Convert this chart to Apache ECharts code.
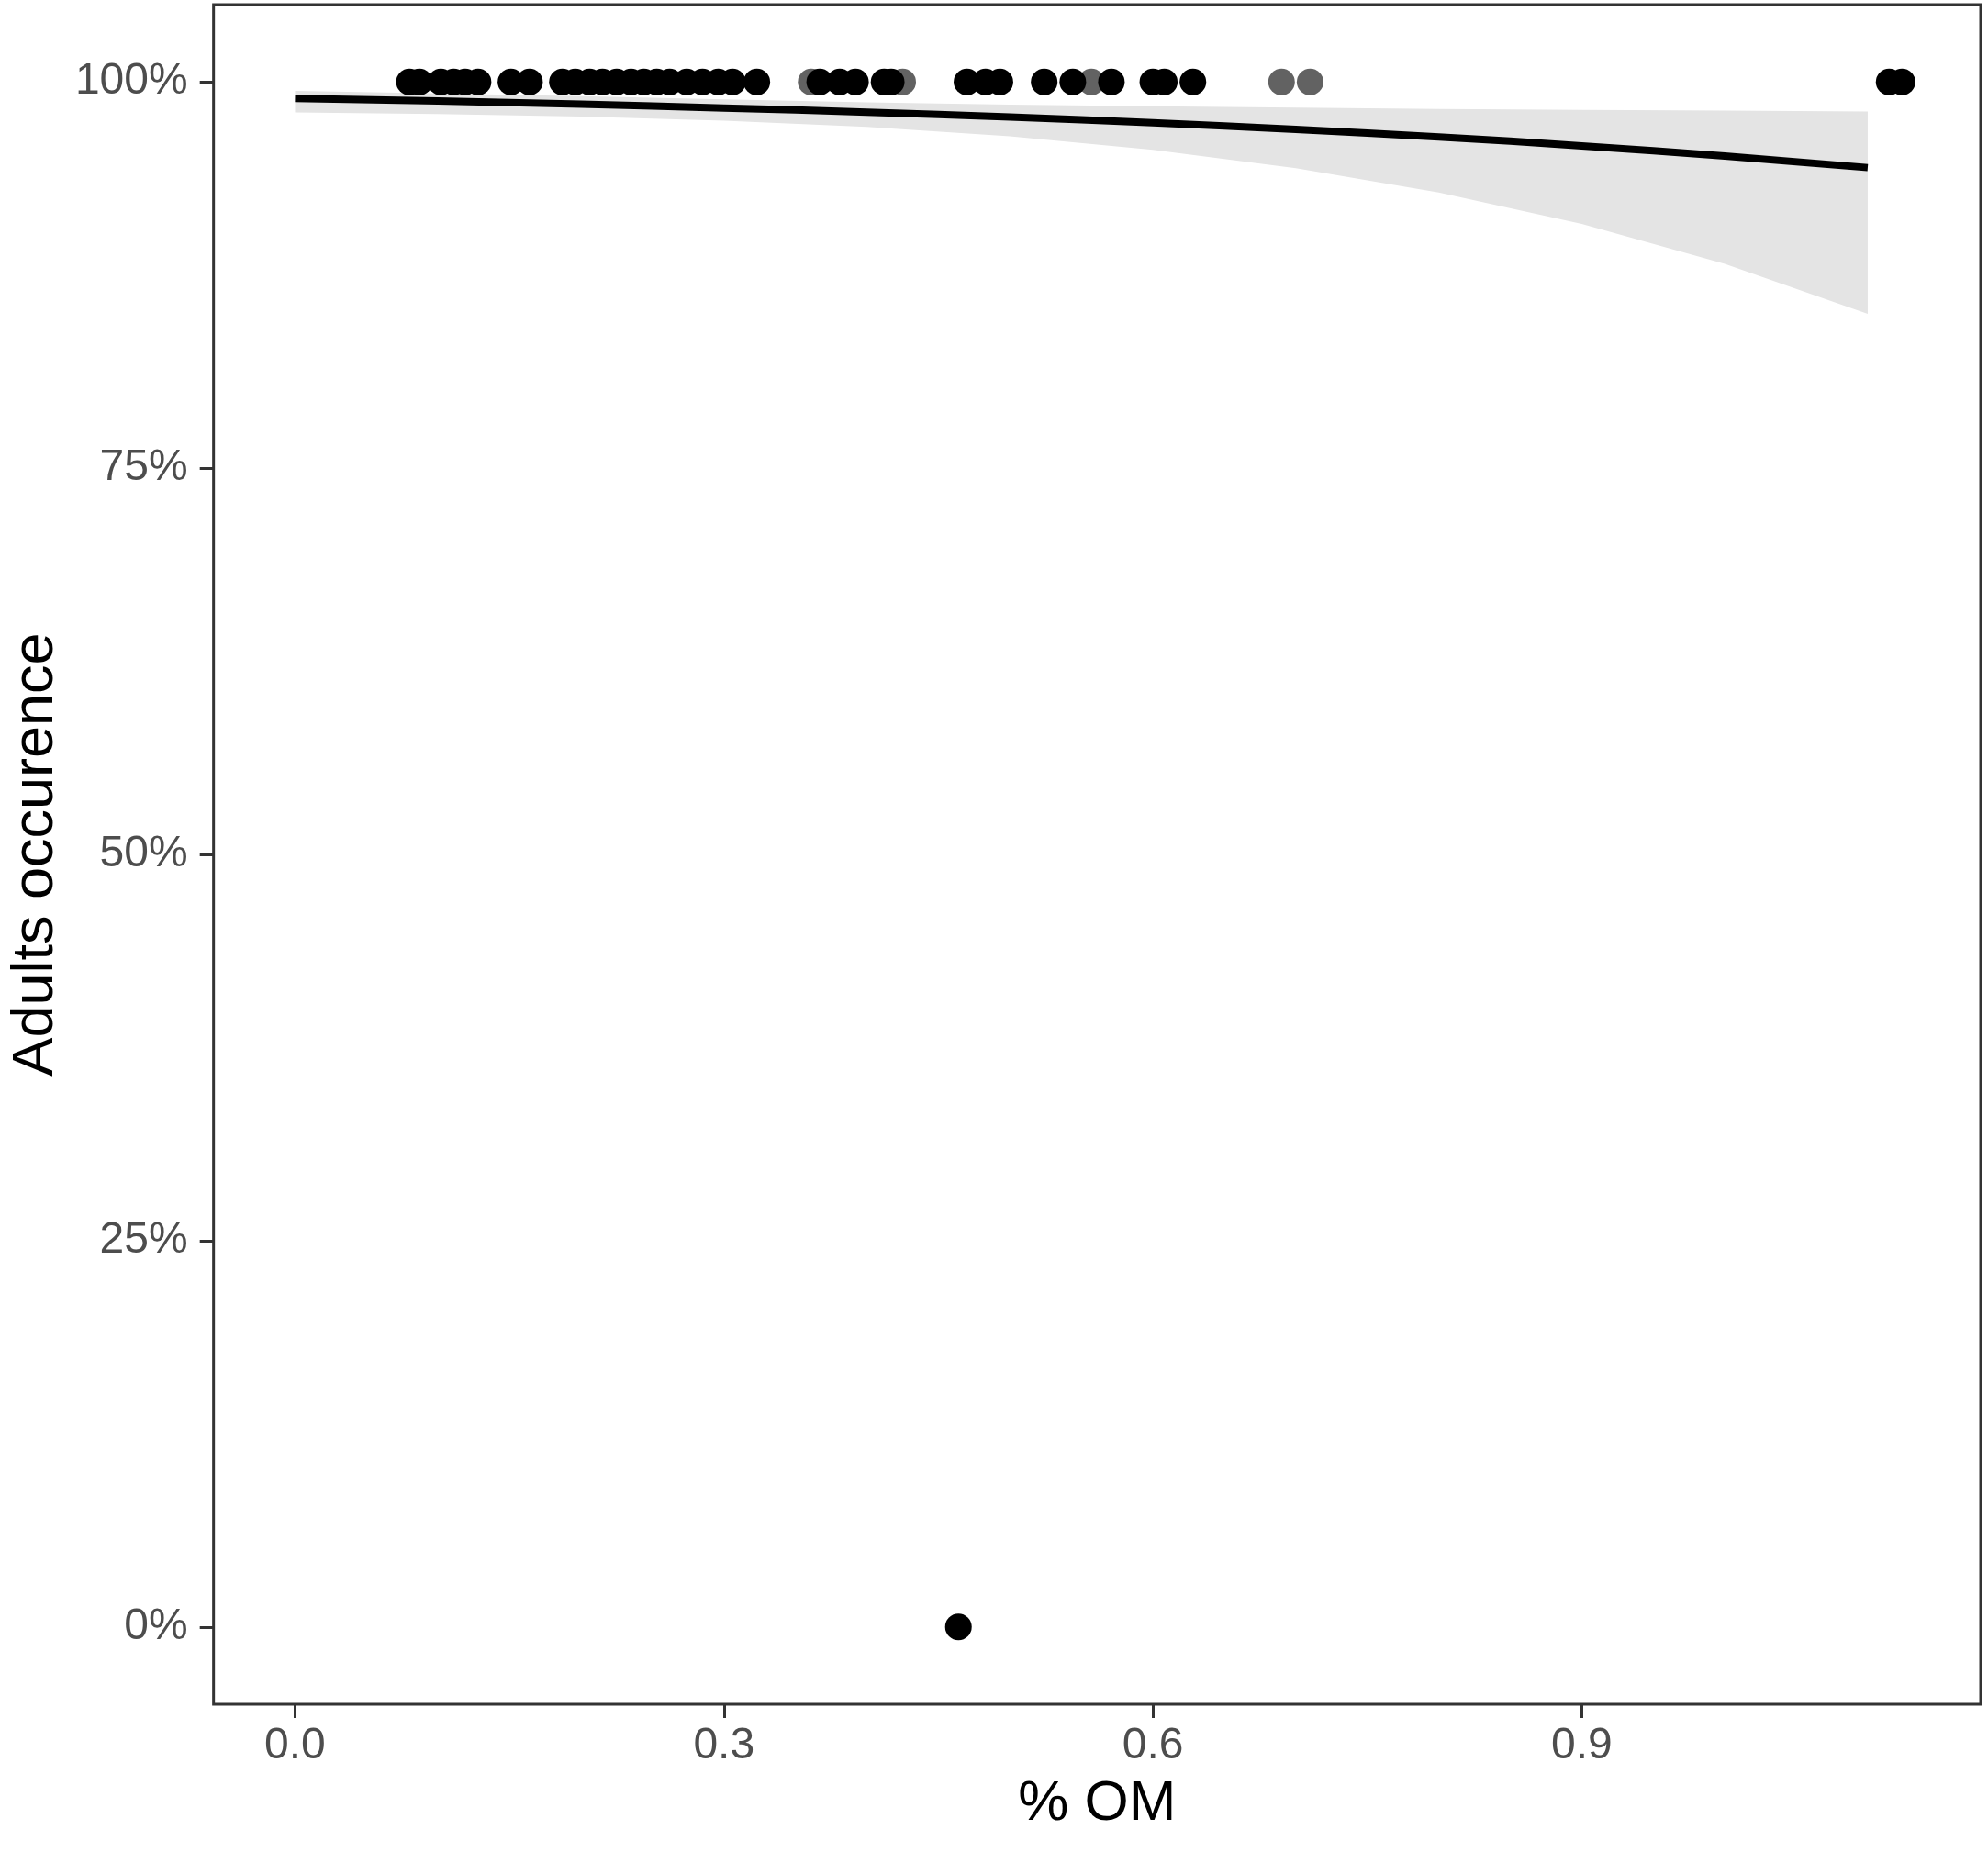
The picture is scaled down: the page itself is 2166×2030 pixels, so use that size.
<!DOCTYPE html>
<html>
<head>
<meta charset="utf-8">
<title>Adults occurence vs % OM</title>
<script src="https://cdn.jsdelivr.net/npm/echarts@6/dist/echarts.min.js"></script>
<style>
    html, body { margin: 0; padding: 0; background: #fff; }
    #chart { width: 2166px; height: 2030px; }
</style>
</head>
<body>
<div id="chart"></div>
<script>
// 观测点 [% OM, occurrence]，黑色
const blackPoints = [
    [0.080, 1], [0.087, 1], [0.102, 1], [0.111, 1], [0.119, 1], [0.128, 1],
    [0.151, 1], [0.164, 1],
    [0.187, 1], [0.196, 1], [0.206, 1], [0.215, 1], [0.225, 1], [0.235, 1],
    [0.244, 1], [0.253, 1], [0.262, 1], [0.274, 1], [0.285, 1], [0.296, 1],
    [0.306, 1], [0.323, 1],
    [0.367, 1], [0.381, 1], [0.392, 1], [0.412, 1], [0.417, 1],
    [0.470, 1], [0.483, 1], [0.493, 1], [0.524, 1], [0.544, 1], [0.571, 1],
    [0.600, 1], [0.608, 1], [0.628, 1],
    [1.115, 1], [1.124, 1],
    [0.464, 0]
];

// 灰色的点
const greyPoints = [
    [0.361, 1], [0.425, 1], [0.557, 1], [0.690, 1], [0.710, 1]
];

// 拟合曲线 + 置信区间
const fitOM   = [0, 0.1, 0.2, 0.3, 0.4, 0.5, 0.6, 0.7, 0.8, 0.9, 1.0, 1.1];
const fitOcc  = [0.9893, 0.9876, 0.9855, 0.9831, 0.9804, 0.9772, 0.9735, 0.9692, 0.9643, 0.9586, 0.9520, 0.9445];
const ciLow   = [0.9802, 0.9791, 0.9775, 0.9749, 0.9708, 0.9647, 0.9560, 0.9441, 0.9284, 0.9081, 0.8822, 0.8498];
const ciHigh  = [0.9942, 0.9926, 0.9907, 0.9887, 0.9868, 0.9853, 0.9842, 0.9833, 0.9825, 0.9819, 0.9814, 0.9808];

// 刻度
const xTicks = [0, 0.3, 0.6, 0.9];
const yTicks = [0, 0.25, 0.5, 0.75, 1];

const FONT = 'Liberation Sans, Arial, sans-serif';

const chart = echarts.init(document.getElementById('chart'), null, { renderer: 'canvas' });

// 置信带：整条多边形只画一次
function renderBand(params, api) {
    if (params.dataIndex !== 0) return;
    const pts = [];
    for (let i = 0; i < fitOM.length; i++) pts.push(api.coord([fitOM[i], ciHigh[i]]));
    for (let i = fitOM.length - 1; i >= 0; i--) pts.push(api.coord([fitOM[i], ciLow[i]]));
    return {
        type: 'polygon',
        shape: { points: pts },
        style: { fill: '#e4e4e4' }
    };
}

const tickStyle = { show: true, length: 15, lineStyle: { color: '#333', width: 3 } };

const option = {
    backgroundColor: '#fff',
    animation: false,
    grid: {
        left: 230, right: 8, top: 5, bottom: 173,
        show: true,
        borderColor: '#333',
        borderWidth: 3,
        backgroundColor: 'transparent'
    },
    xAxis: {
        type: 'value',
        min: -0.057,
        max: 1.179,
        name: '% OM',
        nameLocation: 'middle',
        nameGap: 78,
        nameTextStyle: { fontFamily: FONT, fontSize: 62, color: '#000' },
        axisLine: { show: false, onZero: false },
        splitLine: { show: false },
        axisTick: Object.assign({ customValues: xTicks }, tickStyle),
        axisLabel: {
            customValues: xTicks,
            margin: 22,
            fontFamily: FONT,
            fontSize: 48,
            color: '#4d4d4d',
            formatter: v => v.toFixed(1)
        }
    },
    yAxis: {
        type: 'value',
        min: -0.05,
        max: 1.05,
        name: 'Adults occurence',
        nameLocation: 'middle',
        nameRotate: 90,
        nameGap: 150,
        nameTextStyle: { fontFamily: FONT, fontSize: 63, color: '#000' },
        axisLine: { show: false, onZero: false },
        splitLine: { show: false },
        axisTick: Object.assign({ customValues: yTicks }, tickStyle),
        axisLabel: {
            customValues: yTicks,
            margin: 28,
            fontFamily: FONT,
            fontSize: 48,
            color: '#4d4d4d',
            formatter: v => Math.round(v * 100) + '%'
        }
    },
    series: [
        {
            type: 'custom',
            renderItem: renderBand,
            data: fitOM.map((x, i) => [x, ciLow[i], ciHigh[i]]),
            encode: { x: 0, y: [1, 2] },
            silent: true,
            z: 1
        },
        {
            type: 'scatter',
            data: greyPoints,
            symbolSize: 29,
            itemStyle: { color: '#626262', opacity: 1 },
            z: 2
        },
        {
            type: 'scatter',
            data: blackPoints,
            symbolSize: 29,
            itemStyle: { color: '#000', opacity: 1 },
            z: 3
        },
        {
            type: 'line',
            data: fitOM.map((x, i) => [x, fitOcc[i]]),
            showSymbol: false,
            smooth: true,
            lineStyle: { color: '#000', width: 8 },
            z: 4
        }
    ]
};

chart.setOption(option);
</script>
</body>
</html>
